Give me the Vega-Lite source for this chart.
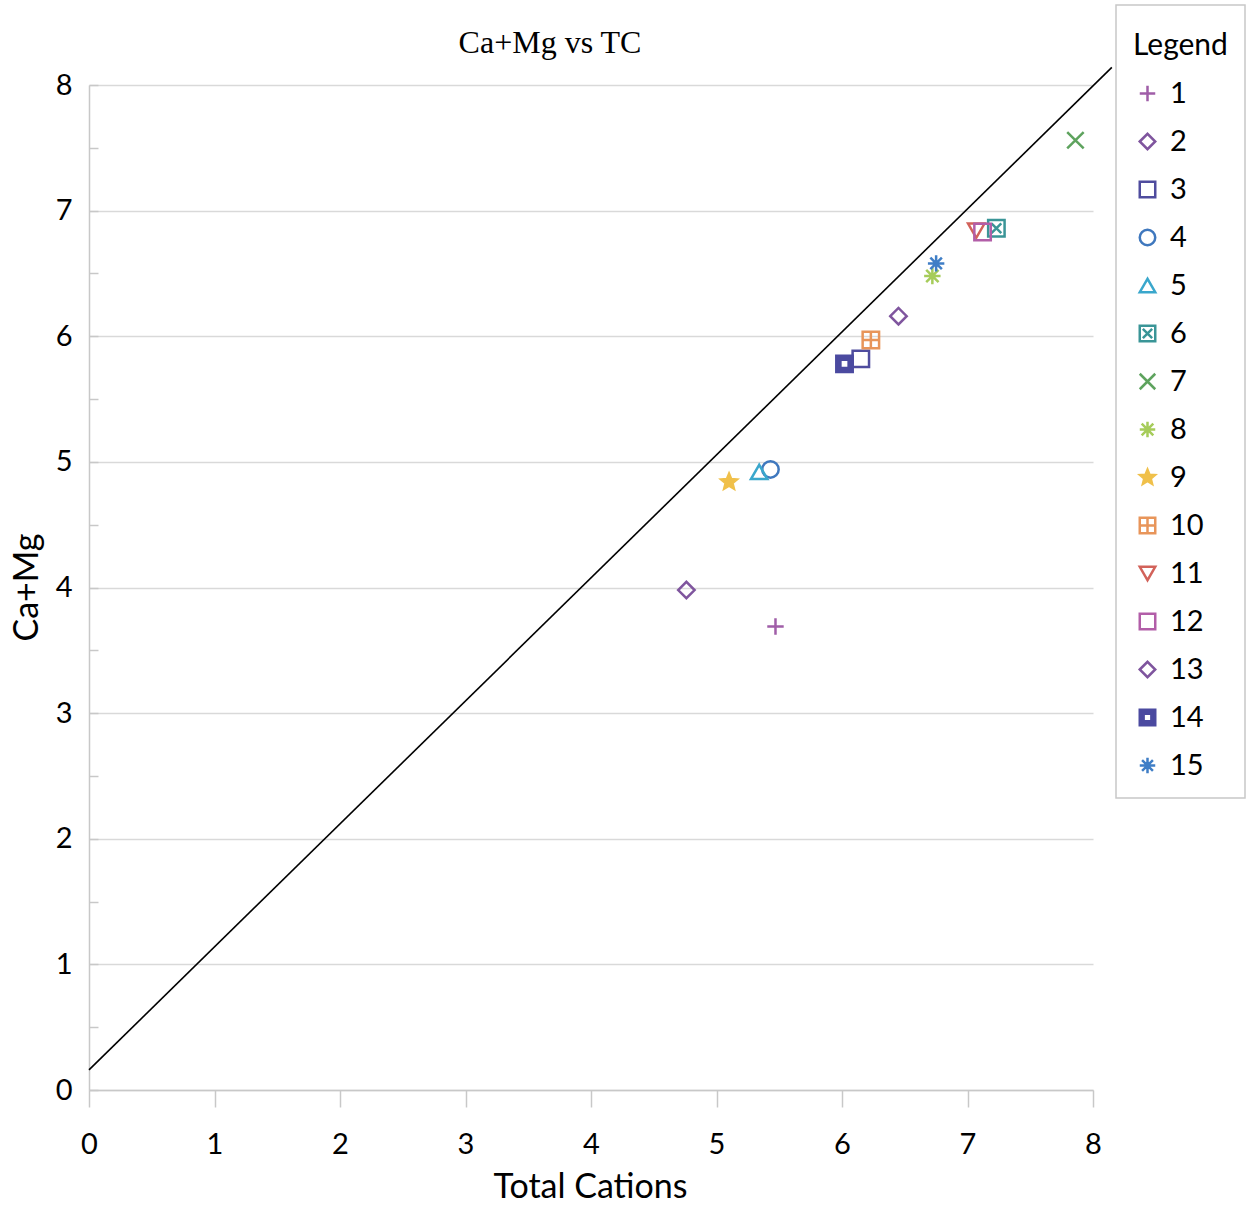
{
  "$schema": "https://vega.github.io/schema/vega-lite/v6.json",
  "width": 1004,
  "height": 1005,
  "autosize": "none",
  "padding": {"left": 89, "top": 85, "right": 153, "bottom": 117},
  "background": "white",
  "title": {"text": "Ca+Mg vs TC", "font": "Liberation Serif", "fontSize": 32, "fontWeight": "normal", "color": "#000000", "anchor": "middle", "dx": -41, "dy": 84, "offset": 28},
  "datasets": {
    "pts": [
      {"s": "1", "x": 5.47, "y": 3.69},
      {"s": "2", "x": 4.76, "y": 3.98},
      {"s": "3", "x": 6.15, "y": 5.82},
      {"s": "4", "x": 5.43, "y": 4.94},
      {"s": "5", "x": 5.34, "y": 4.92},
      {"s": "6", "x": 7.23, "y": 6.86},
      {"s": "7", "x": 7.86, "y": 7.56},
      {"s": "8", "x": 6.72, "y": 6.48},
      {"s": "9", "x": 5.10, "y": 4.84},
      {"s": "10", "x": 6.23, "y": 5.97},
      {"s": "11", "x": 7.07, "y": 6.84},
      {"s": "12", "x": 7.12, "y": 6.83},
      {"s": "13", "x": 6.45, "y": 6.16},
      {"s": "14", "x": 6.02, "y": 5.78},
      {"s": "15", "x": 6.75, "y": 6.58}
    ],
    "fit": [
      {"x": 0, "y": 0.16},
      {"x": 8.15, "y": 8.14}
    ]
  },
  "layer": [
    {
      "data": {"name": "fit"},
      "mark": {"type": "line", "color": "#000000", "strokeWidth": 1.6, "clip": false},
      "encoding": {
        "x": {"field": "x", "type": "quantitative"},
        "y": {"field": "y", "type": "quantitative"}
      }
    },
    {
      "data": {"name": "pts"},
      "mark": {"type": "point", "strokeWidth": 2.5, "opacity": 1, "size": 270},
      "encoding": {
        "x": {"field": "x", "type": "quantitative"},
        "y": {"field": "y", "type": "quantitative"},
        "stroke": {
          "field": "s", "type": "nominal",
          "scale": {
            "domain": ["1","2","3","4","5","6","7","8","9","10","11","12","13","14","15"],
            "range": ["#a05ea8","#7f559e","#4f4c9e","#3f78be","#3aa7cc","#3a9597","#5ea35e","#a6cc5a","#f0c04a","#e8955a","#d2625a","#b25ea8","#7f559e","#4b4aa0","#3f7ec6"]
          },
          "legend": {"title": ["", "Legend"]}
        },
        "fill": {
          "field": "s", "type": "nominal",
          "scale": {
            "domain": ["1","2","3","4","5","6","7","8","9","10","11","12","13","14","15"],
            "range": ["transparent","transparent","transparent","transparent","transparent","transparent","transparent","transparent","#f0c04a","transparent","transparent","transparent","transparent","#4b4aa0","transparent"]
          },
          "legend": {"title": ["", "Legend"]}
        },
        "shape": {
          "field": "s", "type": "nominal",
          "scale": {
            "domain": ["1","2","3","4","5","6","7","8","9","10","11","12","13","14","15"],
            "range": [
              "M-1,0H1M0,-1V1",
              "diamond",
              "square",
              "circle",
              "triangle-up",
              "M-1,-1H1V1H-1ZM-0.6,-0.6L0.6,0.6M-0.6,0.6L0.6,-0.6",
              "M-1,-1L1,1M-1,1L1,-1",
              "M-1,0H1M0,-1V1M-0.75,-0.75L0.75,0.75M-0.75,0.75L0.75,-0.75",
              "M0,-1L0.26,-0.36L0.951,-0.309L0.42,0.137L0.588,0.809L0,0.44L-0.588,0.809L-0.42,0.137L-0.951,-0.309L-0.26,-0.36Z",
              "M-1,-1H1V1H-1ZM0,-1V1M-1,0H1",
              "triangle-down",
              "square",
              "diamond",
              "M-1,-1H1V1H-1ZM-0.5,-0.5V0.5H0.5V-0.5Z",
              "M-1,0H1M0,-1V1M-0.7,-0.7L0.7,0.7M-0.7,0.7L0.7,-0.7M-0.35,-0.35L0.35,0.35"
            ]
          },
          "legend": {"title": ["", "Legend"]}
        }
      }
    }
  ],
  "encoding": {
    "x": {
      "field": "x", "type": "quantitative",
      "scale": {"domain": [0, 8], "nice": false, "zero": false},
      "axis": {
        "title": "Total Cations",
        "values": [0,1,2,3,4,5,6,7,8],
        "grid": false,
        "labelFlush": false,
        "domainColor": "#c8c8c8",
        "domainWidth": 1.5,
        "tickColor": "#c8c8c8",
        "tickWidth": 1.5,
        "tickSize": 17,
        "labelPadding": 23,
        "labelFont": "Lato",
        "labelFontSize": 29,
        "labelColor": "#000000",
        "titleFont": "Lato",
        "titleFontSize": 34,
        "titleFontWeight": "normal",
        "titleColor": "#000000",
        "titleX": 501,
        "titleY": 97,
        "titleBaseline": "middle",
        "titleAlign": "center"
      }
    },
    "y": {
      "field": "y", "type": "quantitative",
      "scale": {"domain": [0, 8], "nice": false, "zero": false},
      "axis": {
        "title": "Ca+Mg",
        "values": [0,0.5,1,1.5,2,2.5,3,3.5,4,4.5,5,5.5,6,6.5,7,7.5,8],
        "labelExpr": "datum.value % 1 === 0 ? format(datum.value, 'd') : ''",
        "grid": true,
        "gridColor": {"condition": {"test": "datum.value % 1 !== 0", "value": "transparent"}, "value": "#d9d9d9"},
        "gridWidth": 1.5,
        "domainColor": "#c8c8c8",
        "domainWidth": 1.5,
        "tickColor": "#c8c8c8",
        "tickWidth": 1.5,
        "tickSize": -9,
        "labelPadding": 26,
        "labelFont": "Lato",
        "labelFontSize": 29,
        "labelColor": "#000000",
        "titleFont": "Lato",
        "titleFontSize": 34,
        "titleFontWeight": "normal",
        "titleColor": "#000000",
        "titleAngle": -90,
        "titleX": -62,
        "titleY": 502,
        "titleBaseline": "middle",
        "titleAlign": "center"
      }
    }
  },
  "config": {
    "view": {"stroke": null},
    "legend": {
      "orient": "none",
      "legendX": 1027,
      "legendY": -80,
      "padding": 17,
      "strokeColor": "#c8c8c8",
      "strokeWidth": 1.5,
      "fillColor": "white",
      "titleFont": "Lato",
      "titleFontSize": 30,
      "titleLineHeight": 9,
      "titleFontWeight": "normal",
      "titleColor": "#000000",
      "titlePadding": 18,
      "labelFont": "Lato",
      "labelFontSize": 29,
      "labelColor": "#000000",
      "labelOffset": 8,
      "symbolSize": 240,
      "symbolStrokeWidth": 2.5,
      "rowPadding": 18
    }
  }
}
